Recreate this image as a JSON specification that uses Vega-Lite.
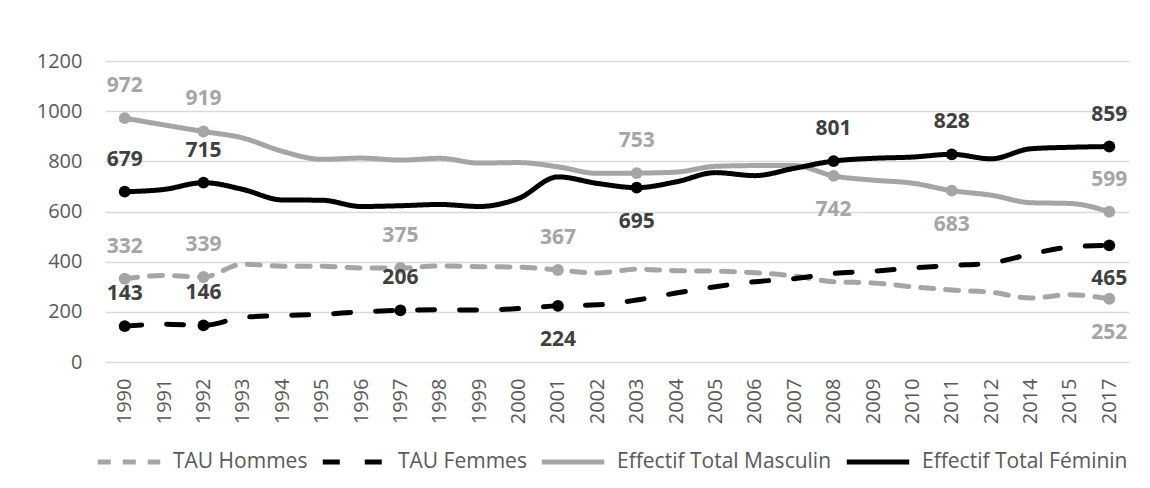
{
  "$schema": "https://vega.github.io/schema/vega-lite/v6.json",
  "width": 1024,
  "height": 301,
  "autosize": {"type": "none"},
  "padding": {"left": 105, "top": 61, "right": 21, "bottom": 126},
  "background": "white",
  "config": {
    "view": {"stroke": null},
    "font": "Open Sans",
    "axis": {"labelFont": "Open Sans", "labelFontSize": 20, "labelColor": "#595959", "title": null},
    "legend": {"labelFont": "Open Sans"}
  },
  "data": {"values": [
    {"year": 1990, "series": "Effectif Total Masculin", "value": 972},
    {"year": 1991, "series": "Effectif Total Masculin", "value": 945},
    {"year": 1992, "series": "Effectif Total Masculin", "value": 919},
    {"year": 1993, "series": "Effectif Total Masculin", "value": 893},
    {"year": 1994, "series": "Effectif Total Masculin", "value": 840},
    {"year": 1995, "series": "Effectif Total Masculin", "value": 808},
    {"year": 1996, "series": "Effectif Total Masculin", "value": 813},
    {"year": 1997, "series": "Effectif Total Masculin", "value": 805},
    {"year": 1998, "series": "Effectif Total Masculin", "value": 812},
    {"year": 1999, "series": "Effectif Total Masculin", "value": 793},
    {"year": 2000, "series": "Effectif Total Masculin", "value": 795},
    {"year": 2001, "series": "Effectif Total Masculin", "value": 778},
    {"year": 2002, "series": "Effectif Total Masculin", "value": 752},
    {"year": 2003, "series": "Effectif Total Masculin", "value": 753},
    {"year": 2004, "series": "Effectif Total Masculin", "value": 757},
    {"year": 2005, "series": "Effectif Total Masculin", "value": 780},
    {"year": 2006, "series": "Effectif Total Masculin", "value": 783},
    {"year": 2007, "series": "Effectif Total Masculin", "value": 783},
    {"year": 2008, "series": "Effectif Total Masculin", "value": 742},
    {"year": 2009, "series": "Effectif Total Masculin", "value": 725},
    {"year": 2010, "series": "Effectif Total Masculin", "value": 713},
    {"year": 2011, "series": "Effectif Total Masculin", "value": 683},
    {"year": 2012, "series": "Effectif Total Masculin", "value": 665},
    {"year": 2014, "series": "Effectif Total Masculin", "value": 635},
    {"year": 2015, "series": "Effectif Total Masculin", "value": 632},
    {"year": 2017, "series": "Effectif Total Masculin", "value": 599},
    {"year": 1990, "series": "Effectif Total Féminin", "value": 679},
    {"year": 1991, "series": "Effectif Total Féminin", "value": 688},
    {"year": 1992, "series": "Effectif Total Féminin", "value": 715},
    {"year": 1993, "series": "Effectif Total Féminin", "value": 688},
    {"year": 1994, "series": "Effectif Total Féminin", "value": 646},
    {"year": 1995, "series": "Effectif Total Féminin", "value": 645},
    {"year": 1996, "series": "Effectif Total Féminin", "value": 620},
    {"year": 1997, "series": "Effectif Total Féminin", "value": 623},
    {"year": 1998, "series": "Effectif Total Féminin", "value": 628},
    {"year": 1999, "series": "Effectif Total Féminin", "value": 620},
    {"year": 2000, "series": "Effectif Total Féminin", "value": 652},
    {"year": 2001, "series": "Effectif Total Féminin", "value": 738},
    {"year": 2002, "series": "Effectif Total Féminin", "value": 712},
    {"year": 2003, "series": "Effectif Total Féminin", "value": 695},
    {"year": 2004, "series": "Effectif Total Féminin", "value": 718},
    {"year": 2005, "series": "Effectif Total Féminin", "value": 755},
    {"year": 2006, "series": "Effectif Total Féminin", "value": 743},
    {"year": 2007, "series": "Effectif Total Féminin", "value": 772},
    {"year": 2008, "series": "Effectif Total Féminin", "value": 801},
    {"year": 2009, "series": "Effectif Total Féminin", "value": 812},
    {"year": 2010, "series": "Effectif Total Féminin", "value": 817},
    {"year": 2011, "series": "Effectif Total Féminin", "value": 828},
    {"year": 2012, "series": "Effectif Total Féminin", "value": 810},
    {"year": 2014, "series": "Effectif Total Féminin", "value": 850},
    {"year": 2015, "series": "Effectif Total Féminin", "value": 856},
    {"year": 2017, "series": "Effectif Total Féminin", "value": 859},
    {"year": 1990, "series": "TAU Hommes", "value": 332},
    {"year": 1991, "series": "TAU Hommes", "value": 345},
    {"year": 1992, "series": "TAU Hommes", "value": 339},
    {"year": 1993, "series": "TAU Hommes", "value": 390},
    {"year": 1994, "series": "TAU Hommes", "value": 382},
    {"year": 1995, "series": "TAU Hommes", "value": 382},
    {"year": 1996, "series": "TAU Hommes", "value": 375},
    {"year": 1997, "series": "TAU Hommes", "value": 375},
    {"year": 1998, "series": "TAU Hommes", "value": 383},
    {"year": 1999, "series": "TAU Hommes", "value": 380},
    {"year": 2000, "series": "TAU Hommes", "value": 378},
    {"year": 2001, "series": "TAU Hommes", "value": 367},
    {"year": 2002, "series": "TAU Hommes", "value": 355},
    {"year": 2003, "series": "TAU Hommes", "value": 370},
    {"year": 2004, "series": "TAU Hommes", "value": 364},
    {"year": 2005, "series": "TAU Hommes", "value": 362},
    {"year": 2006, "series": "TAU Hommes", "value": 356},
    {"year": 2007, "series": "TAU Hommes", "value": 343},
    {"year": 2008, "series": "TAU Hommes", "value": 320},
    {"year": 2009, "series": "TAU Hommes", "value": 315},
    {"year": 2010, "series": "TAU Hommes", "value": 300},
    {"year": 2011, "series": "TAU Hommes", "value": 287},
    {"year": 2012, "series": "TAU Hommes", "value": 278},
    {"year": 2014, "series": "TAU Hommes", "value": 255},
    {"year": 2015, "series": "TAU Hommes", "value": 268},
    {"year": 2017, "series": "TAU Hommes", "value": 252},
    {"year": 1990, "series": "TAU Femmes", "value": 143},
    {"year": 1991, "series": "TAU Femmes", "value": 151},
    {"year": 1992, "series": "TAU Femmes", "value": 146},
    {"year": 1993, "series": "TAU Femmes", "value": 178},
    {"year": 1994, "series": "TAU Femmes", "value": 185},
    {"year": 1995, "series": "TAU Femmes", "value": 190},
    {"year": 1996, "series": "TAU Femmes", "value": 200},
    {"year": 1997, "series": "TAU Femmes", "value": 206},
    {"year": 1998, "series": "TAU Femmes", "value": 208},
    {"year": 1999, "series": "TAU Femmes", "value": 207},
    {"year": 2000, "series": "TAU Femmes", "value": 213},
    {"year": 2001, "series": "TAU Femmes", "value": 224},
    {"year": 2002, "series": "TAU Femmes", "value": 228},
    {"year": 2003, "series": "TAU Femmes", "value": 247},
    {"year": 2004, "series": "TAU Femmes", "value": 275},
    {"year": 2005, "series": "TAU Femmes", "value": 300},
    {"year": 2006, "series": "TAU Femmes", "value": 320},
    {"year": 2007, "series": "TAU Femmes", "value": 332},
    {"year": 2008, "series": "TAU Femmes", "value": 353},
    {"year": 2009, "series": "TAU Femmes", "value": 362},
    {"year": 2010, "series": "TAU Femmes", "value": 375},
    {"year": 2011, "series": "TAU Femmes", "value": 385},
    {"year": 2012, "series": "TAU Femmes", "value": 395},
    {"year": 2014, "series": "TAU Femmes", "value": 430},
    {"year": 2015, "series": "TAU Femmes", "value": 458},
    {"year": 2017, "series": "TAU Femmes", "value": 465}
  ]},
  "encoding": {
    "x": {
      "field": "year", "type": "ordinal",
      "scale": {"type": "point", "padding": 0.5},
      "axis": {"labelAngle": 270, "labelAlign": "right", "labelBaseline": "middle", "labelPadding": 16, "ticks": false, "domain": false, "grid": false}
    },
    "y": {
      "field": "value", "type": "quantitative",
      "scale": {"domain": [0, 1200], "nice": false, "zero": true},
      "axis": {"values": [0, 200, 400, 600, 800, 1000, 1200], "format": "d", "labelPadding": 23, "ticks": false, "domain": false, "gridColor": "#D9D9D9", "gridWidth": 1.5}
    }
  },
  "layer": [
    {
      "mark": {"type": "line", "strokeWidth": 5, "strokeCap": "round", "interpolate": "monotone"},
      "encoding": {
        "color": {
          "field": "series", "type": "nominal",
          "scale": {"domain": ["TAU Hommes", "TAU Femmes", "Effectif Total Masculin", "Effectif Total Féminin"], "range": ["#A5A5A5", "#000000", "#A5A5A5", "#000000"]},
          "legend": {
            "title": null, "orient": "none", "direction": "horizontal", "legendX": -10, "legendY": 367,
            "symbolType": "stroke", "symbolSize": 3900, "symbolStrokeWidth": 5,
            "labelFontSize": 21, "labelColor": "#595959", "labelOffset": 10, "labelLimit": 400, "columnPadding": 4
          }
        },
        "strokeDash": {
          "field": "series", "type": "nominal",
          "scale": {"domain": ["TAU Hommes", "TAU Femmes", "Effectif Total Masculin", "Effectif Total Féminin"], "range": [[13, 12], [17, 25], [1, 0], [1, 0]]},
          "legend": {
            "title": null, "orient": "none", "direction": "horizontal", "legendX": -10, "legendY": 367,
            "symbolType": "stroke", "symbolSize": 3900, "symbolStrokeWidth": 5,
            "labelFontSize": 21, "labelColor": "#595959", "labelOffset": 10, "labelLimit": 400, "columnPadding": 4
          }
        }
      }
    },
    {
      "transform": [{"filter": "((datum.series == 'TAU Hommes' || datum.series == 'TAU Femmes') && indexof([1990, 1992, 1997, 2001, 2017], datum.year) >= 0) || ((datum.series == 'Effectif Total Masculin' || datum.series == 'Effectif Total Féminin') && indexof([1990, 1992, 2003, 2008, 2011, 2017], datum.year) >= 0)"}],
      "layer": [
        {
          "mark": {"type": "circle", "size": 140, "opacity": 1},
          "encoding": {
            "color": {"condition": {"test": "datum.series == 'TAU Hommes' || datum.series == 'Effectif Total Masculin'", "value": "#A5A5A5"}, "value": "#000000"}
          }
        },
        {
          "transform": [{"filter": "!((datum.series == 'Effectif Total Masculin' && (datum.year == 2008 || datum.year == 2011)) || (datum.series == 'Effectif Total Féminin' && datum.year == 2003) || (datum.series == 'TAU Femmes' && (datum.year == 2001 || datum.year == 2017)) || (datum.series == 'TAU Hommes' && datum.year == 2017))"}],
          "mark": {"type": "text", "fontSize": 21, "fontWeight": "bold", "font": "Open Sans", "dy": -32, "baseline": "middle"},
          "encoding": {
            "text": {"field": "value", "type": "quantitative"},
            "color": {"condition": {"test": "datum.series == 'TAU Hommes' || datum.series == 'Effectif Total Masculin'", "value": "#A5A5A5"}, "value": "#404040"}
          }
        },
        {
          "transform": [{"filter": "(datum.series == 'Effectif Total Masculin' && (datum.year == 2008 || datum.year == 2011)) || (datum.series == 'Effectif Total Féminin' && datum.year == 2003) || (datum.series == 'TAU Femmes' && (datum.year == 2001 || datum.year == 2017)) || (datum.series == 'TAU Hommes' && datum.year == 2017)"}],
          "mark": {"type": "text", "fontSize": 21, "fontWeight": "bold", "font": "Open Sans", "dy": 34, "baseline": "middle"},
          "encoding": {
            "text": {"field": "value", "type": "quantitative"},
            "color": {"condition": {"test": "datum.series == 'TAU Hommes' || datum.series == 'Effectif Total Masculin'", "value": "#A5A5A5"}, "value": "#404040"}
          }
        }
      ]
    }
  ]
}
